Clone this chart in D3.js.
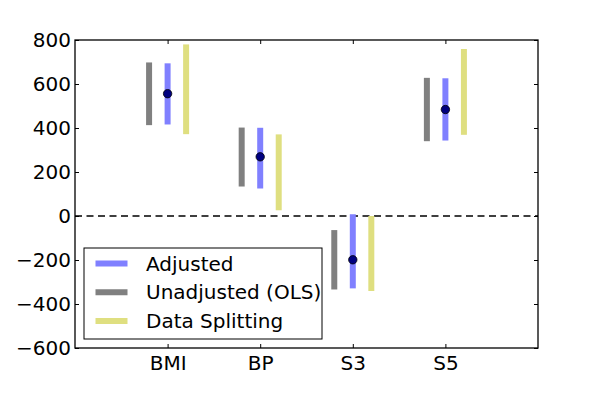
<!DOCTYPE html>
<html>
<head>
<meta charset="utf-8">
<script src="https://cdn.jsdelivr.net/npm/d3@7"></script>
<style>
  body { margin: 0; background: #fff; }
  text { font-family: "DejaVu Sans", sans-serif; }
</style>
</head>
<body>
<svg id="chart" width="598" height="399"></svg>
<script>
// data
var categories = ["BMI", "BP", "S3", "S5"];
var estimates = [556, 269, -199, 484];
var adjustedLow = [416, 125, -329, 343];
var adjustedHigh = [694, 401, 8, 626];
var olsLow = [413, 134, -334, 340];
var olsHigh = [698, 402, -64, 628];
var splitLow = [372, 26, -341, 369];
var splitHigh = [780, 371, 0, 759];
var yTicks = [-600, -400, -200, 0, 200, 400, 600, 800];

var margin = {left: 75, top: 40, right: 60, bottom: 51};
var width = 598 - margin.left - margin.right,
    height = 399 - margin.top - margin.bottom;

var svg = d3.select("#chart");
var g = svg.append("g")
  .attr("transform", "translate(" + margin.left + "," + margin.top + ")");

var x = d3.scaleLinear().domain([0, 5]).range([0, width]);
var y = d3.scaleLinear().domain([-600, 800]).range([height, 0]);

var series = [
  {name: "Adjusted", color: "#8080ff", off: 0, lo: adjustedLow, hi: adjustedHigh},
  {name: "Unadjusted (OLS)", color: "#808080", off: -0.2, lo: olsLow, hi: olsHigh},
  {name: "Data Splitting", color: "#dfdf80", off: 0.2, lo: splitLow, hi: splitHigh}
];

// zero line
g.append("line")
  .attr("x1", 0).attr("x2", width)
  .attr("y1", y(0)).attr("y2", y(0))
  .attr("stroke", "#000").attr("stroke-width", 1.3)
  .attr("stroke-dasharray", "7,4.5");

// interval bars
series.forEach(function(s) {
  g.selectAll(null)
    .data(categories)
    .enter().append("line")
      .attr("x1", function(d, i) { return x(i + 1 + s.off); })
      .attr("x2", function(d, i) { return x(i + 1 + s.off); })
      .attr("y1", function(d, i) { return y(s.lo[i]); })
      .attr("y2", function(d, i) { return y(s.hi[i]); })
      .attr("stroke", s.color)
      .attr("stroke-width", 6);
});

// point estimates
g.selectAll(null)
  .data(estimates)
  .enter().append("circle")
    .attr("cx", function(d, i) { return x(i + 1); })
    .attr("cy", function(d) { return y(d); })
    .attr("r", 4.2)
    .attr("fill", "#000080")
    .attr("stroke", "#000")
    .attr("stroke-width", 0.8);

// axes, ticks inward on all sides
var xAxis = d3.axisBottom(x).tickValues([1, 2, 3, 4])
  .tickFormat(function(d) { return categories[d - 1]; })
  .tickSizeInner(-4).tickSizeOuter(0).tickPadding(8);
var yAxis = d3.axisLeft(y).tickValues(yTicks)
  .tickFormat(function(d) { return d < 0 ? "\u2212" + (-d) : d; })
  .tickSizeInner(-4).tickSizeOuter(0).tickPadding(4);

var gx = g.append("g").attr("transform", "translate(0," + height + ")").call(xAxis);
var gy = g.append("g").call(yAxis);
g.append("g").call(d3.axisTop(x).tickValues([1, 2, 3, 4]).tickFormat("").tickSizeInner(-4).tickSizeOuter(0));
g.append("g").attr("transform", "translate(" + width + ",0)")
  .call(d3.axisRight(y).tickValues(yTicks).tickFormat("").tickSizeInner(-4).tickSizeOuter(0));

g.selectAll(".domain").remove();
g.selectAll(".tick line").attr("stroke", "#000");
[gx, gy].forEach(function(a) {
  a.selectAll("text").attr("font-size", 20).attr("fill", "#000")
    .style("font-family", "DejaVu Sans");
});

g.append("rect")
  .attr("width", width).attr("height", height)
  .attr("fill", "none").attr("stroke", "#000").attr("stroke-width", 1.3);

// legend
var legend = g.append("g").attr("transform", "translate(9,208)");
legend.append("rect")
  .attr("width", 238).attr("height", 91)
  .attr("fill", "#fff").attr("stroke", "#000").attr("stroke-width", 1);
series.forEach(function(s, i) {
  var ly = 15.5 + i * 28.7;
  legend.append("line")
    .attr("x1", 11.5).attr("x2", 43.5)
    .attr("y1", ly).attr("y2", ly)
    .attr("stroke", s.color).attr("stroke-width", 6);
  legend.append("text")
    .attr("x", 62).attr("y", ly)
    .attr("dy", "0.36em")
    .attr("font-size", 20)
    .text(s.name);
});
</script>
</body>
</html>
